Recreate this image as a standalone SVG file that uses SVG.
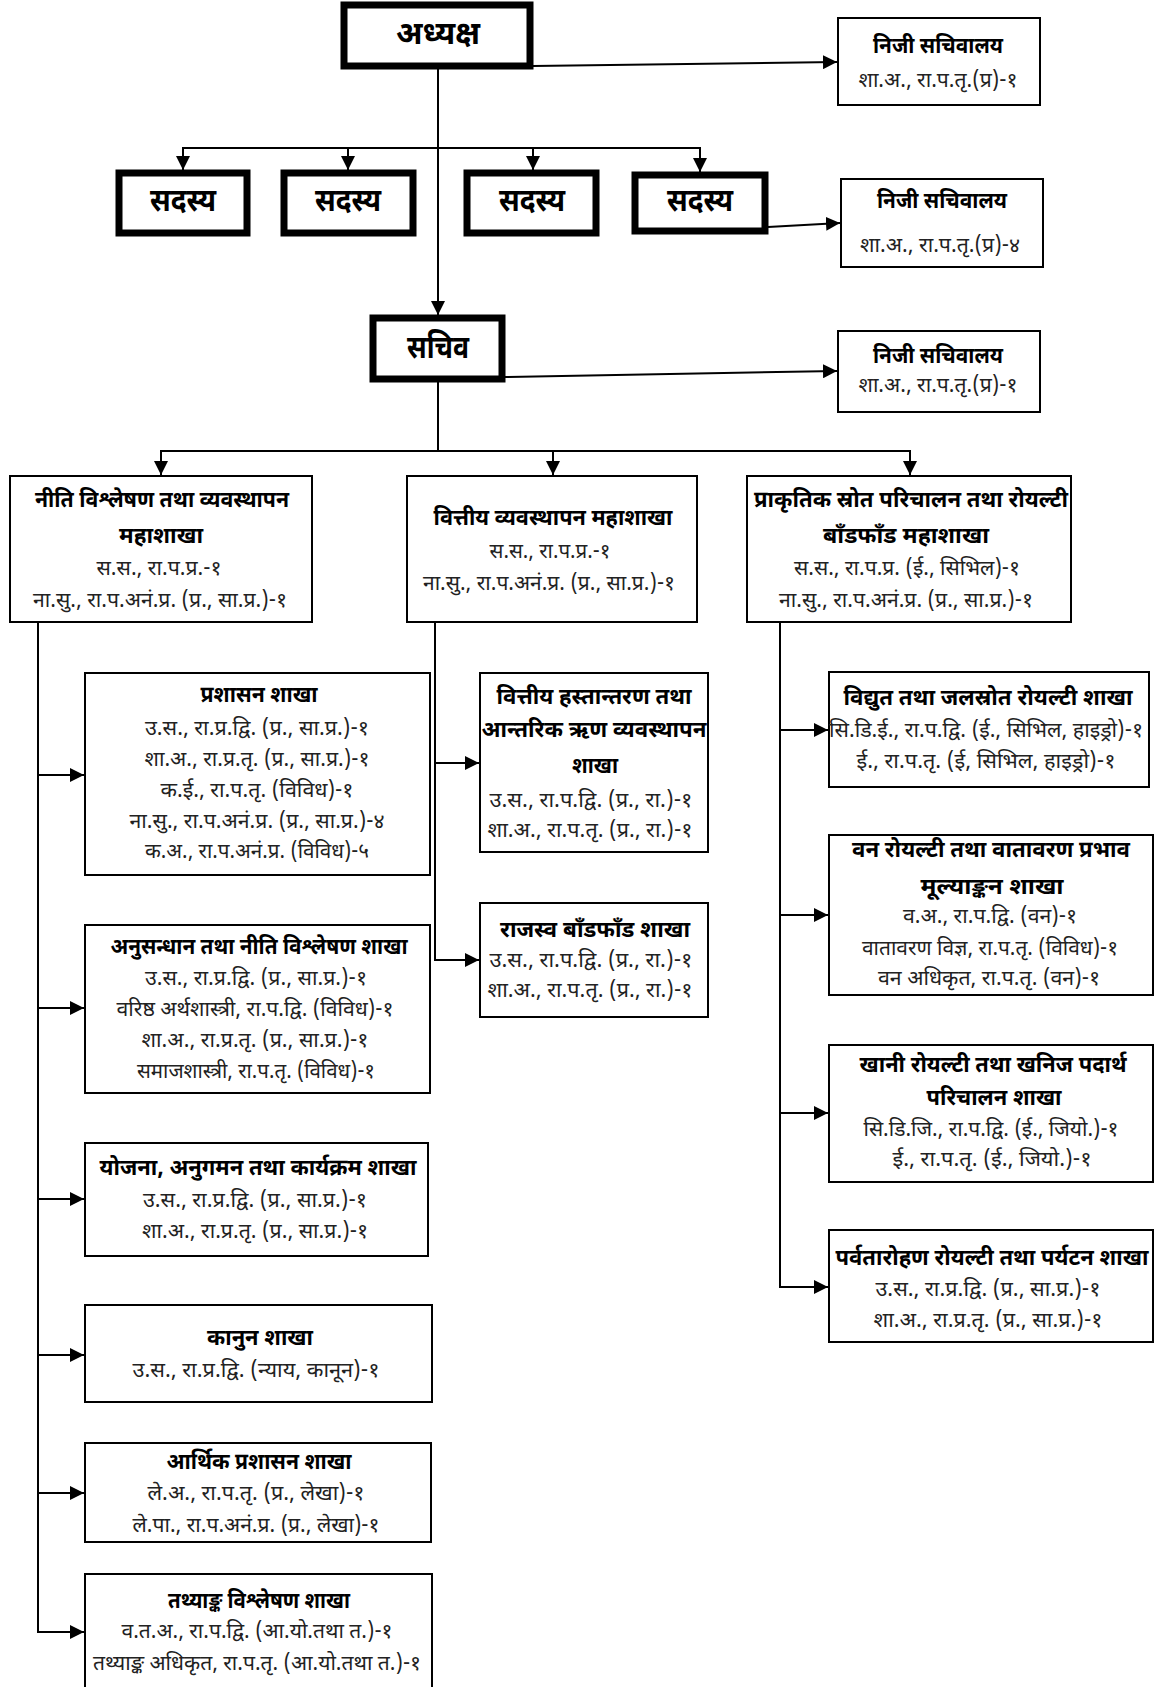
<svg xmlns="http://www.w3.org/2000/svg" width="1155" height="1687" viewBox="0 0 1155 1687">
<style>
.box{fill:#fff;stroke:#000;stroke-width:2}
.thick{fill:#fff;stroke:#000;stroke-width:7}
text{font-family:"Noto Sans Devanagari","Noto Sans","Lohit Devanagari",sans-serif;text-anchor:middle;dominant-baseline:central;fill:#000}
.h{font-size:32px;font-weight:bold}
.t{font-size:23px;font-weight:bold}
.b{font-size:21px;fill:#222}
.c{fill:none;stroke:#000;stroke-width:2}
</style>
<defs>
<marker id="ar" markerUnits="userSpaceOnUse" markerWidth="14" markerHeight="14" refX="14" refY="7" orient="auto">
<path d="M0,0 L14,7 L0,14 z" fill="#000"/>
</marker>
</defs>
<rect width="1155" height="1687" fill="#fff"/>

<g id="connectors">
<path class="c" d="M533,66 L837,62" marker-end="url(#ar)"/>
<path class="c" d="M438,69 V315" marker-end="url(#ar)"/>
<path class="c" d="M438,148 H183 V170" marker-end="url(#ar)"/>
<path class="c" d="M438,148 H700 V172" marker-end="url(#ar)"/>
<path class="c" d="M348,148 V170" marker-end="url(#ar)"/>
<path class="c" d="M533,148 V170" marker-end="url(#ar)"/>
<path class="c" d="M768,227 L840,223" marker-end="url(#ar)"/>
<path class="c" d="M505,377 L837,371" marker-end="url(#ar)"/>
<path class="c" d="M438,382 V451"/>
<path class="c" d="M438,451 H161 V475" marker-end="url(#ar)"/>
<path class="c" d="M438,451 H910 V475" marker-end="url(#ar)"/>
<path class="c" d="M553,451 V475" marker-end="url(#ar)"/>
<path class="c" d="M38,623 V1632 H84" marker-end="url(#ar)"/>
<path class="c" d="M38,775 H84" marker-end="url(#ar)"/>
<path class="c" d="M38,1008 H84" marker-end="url(#ar)"/>
<path class="c" d="M38,1199 H84" marker-end="url(#ar)"/>
<path class="c" d="M38,1355 H84" marker-end="url(#ar)"/>
<path class="c" d="M38,1493 H84" marker-end="url(#ar)"/>
<path class="c" d="M435,623 V960 H479" marker-end="url(#ar)"/>
<path class="c" d="M435,763 H479" marker-end="url(#ar)"/>
<path class="c" d="M780,623 V1287 H828" marker-end="url(#ar)"/>
<path class="c" d="M780,730 H828" marker-end="url(#ar)"/>
<path class="c" d="M780,915 H828" marker-end="url(#ar)"/>
<path class="c" d="M780,1113 H828" marker-end="url(#ar)"/>
</g>

<g id="adhyaksha">
<rect class="thick" x="344" y="5" width="186" height="61"/>
<text class="h" x="438" y="36" textLength="84" lengthAdjust="spacingAndGlyphs">अध्यक्ष</text>
</g>
<g id="niji1">
<rect class="box" x="838" y="18" width="202" height="87"/>
<text class="t" x="938" y="47" textLength="130" lengthAdjust="spacingAndGlyphs">निजी सचिवालय</text>
<text class="b" x="938" y="82" textLength="159" lengthAdjust="spacingAndGlyphs">शा.अ., रा.प.तृ.(प्र)-१</text>
</g>
<g id="sadasya1">
<rect class="thick" x="119" y="173" width="128" height="60"/>
<text class="h" x="183" y="203" textLength="66" lengthAdjust="spacingAndGlyphs">सदस्य</text>
</g>
<g id="sadasya2">
<rect class="thick" x="284" y="173" width="129" height="60"/>
<text class="h" x="348" y="203" textLength="66" lengthAdjust="spacingAndGlyphs">सदस्य</text>
</g>
<g id="sadasya3">
<rect class="thick" x="467" y="173" width="129" height="60"/>
<text class="h" x="532" y="203" textLength="66" lengthAdjust="spacingAndGlyphs">सदस्य</text>
</g>
<g id="sadasya4">
<rect class="thick" x="635" y="175" width="130" height="56"/>
<text class="h" x="700" y="203" textLength="66" lengthAdjust="spacingAndGlyphs">सदस्य</text>
</g>
<g id="niji2">
<rect class="box" x="841" y="179" width="202" height="88"/>
<text class="t" x="942" y="202" textLength="130" lengthAdjust="spacingAndGlyphs">निजी सचिवालय</text>
<text class="b" x="940" y="247" textLength="160" lengthAdjust="spacingAndGlyphs">शा.अ., रा.प.तृ.(प्र)-४</text>
</g>
<g id="sachiv">
<rect class="thick" x="373" y="318" width="129" height="61"/>
<text class="h" x="438" y="350" textLength="62" lengthAdjust="spacingAndGlyphs">सचिव</text>
</g>
<g id="niji3">
<rect class="box" x="838" y="331" width="202" height="81"/>
<text class="t" x="938" y="357" textLength="130" lengthAdjust="spacingAndGlyphs">निजी सचिवालय</text>
<text class="b" x="938" y="387" textLength="159" lengthAdjust="spacingAndGlyphs">शा.अ., रा.प.तृ.(प्र)-१</text>
</g>

<g id="mahashakha1">
<rect class="box" x="10" y="476" width="302" height="146"/>
<text class="t" x="162" y="501" textLength="254" lengthAdjust="spacingAndGlyphs">नीति विश्लेषण तथा व्यवस्थापन</text>
<text class="t" x="161" y="537" textLength="84" lengthAdjust="spacingAndGlyphs">महाशाखा</text>
<text class="b" x="159" y="570" textLength="125" lengthAdjust="spacingAndGlyphs">स.स., रा.प.प्र.-१</text>
<text class="b" x="160" y="602" textLength="254" lengthAdjust="spacingAndGlyphs">ना.सु., रा.प.अनं.प्र. (प्र., सा.प्र.)-१</text>
</g>
<g id="mahashakha2">
<rect class="box" x="407" y="476" width="290" height="146"/>
<text class="t" x="553" y="519" textLength="239" lengthAdjust="spacingAndGlyphs">वित्तीय व्यवस्थापन महाशाखा</text>
<text class="b" x="550" y="553" textLength="121" lengthAdjust="spacingAndGlyphs">स.स., रा.प.प्र.-१</text>
<text class="b" x="549" y="585" textLength="252" lengthAdjust="spacingAndGlyphs">ना.सु., रा.प.अनं.प्र. (प्र., सा.प्र.)-१</text>
</g>
<g id="mahashakha3">
<rect class="box" x="747" y="476" width="324" height="146"/>
<text class="t" x="911" y="501" textLength="314" lengthAdjust="spacingAndGlyphs">प्राकृतिक स्रोत परिचालन तथा रोयल्टी</text>
<text class="t" x="906" y="537" textLength="166" lengthAdjust="spacingAndGlyphs">बाँडफाँड महाशाखा</text>
<text class="b" x="907" y="570" textLength="226" lengthAdjust="spacingAndGlyphs">स.स., रा.प.प्र. (ई., सिभिल)-१</text>
<text class="b" x="906" y="602" textLength="254" lengthAdjust="spacingAndGlyphs">ना.सु., रा.प.अनं.प्र. (प्र., सा.प्र.)-१</text>
</g>

<g id="prashasan">
<rect class="box" x="85" y="673" width="345" height="202"/>
<text class="t" x="259" y="696" textLength="117" lengthAdjust="spacingAndGlyphs">प्रशासन शाखा</text>
<text class="b" x="257" y="730" textLength="224" lengthAdjust="spacingAndGlyphs">उ.स., रा.प्र.द्वि. (प्र., सा.प्र.)-१</text>
<text class="b" x="257" y="761" textLength="225" lengthAdjust="spacingAndGlyphs">शा.अ., रा.प्र.तृ. (प्र., सा.प्र.)-१</text>
<text class="b" x="257" y="792" textLength="193" lengthAdjust="spacingAndGlyphs">क.ई., रा.प.तृ. (विविध)-१</text>
<text class="b" x="257" y="823" textLength="255" lengthAdjust="spacingAndGlyphs">ना.सु., रा.प.अनं.प्र. (प्र., सा.प्र.)-४</text>
<text class="b" x="257" y="853" textLength="224" lengthAdjust="spacingAndGlyphs">क.अ., रा.प.अनं.प्र. (विविध)-५</text>
</g>
<g id="anusandhan">
<rect class="box" x="85" y="925" width="345" height="168"/>
<text class="t" x="259" y="948" textLength="297" lengthAdjust="spacingAndGlyphs">अनुसन्धान तथा नीति विश्लेषण शाखा</text>
<text class="b" x="256" y="980" textLength="222" lengthAdjust="spacingAndGlyphs">उ.स., रा.प्र.द्वि. (प्र., सा.प्र.)-१</text>
<text class="b" x="255" y="1011" textLength="277" lengthAdjust="spacingAndGlyphs">वरिष्ठ अर्थशास्त्री, रा.प.द्वि. (विविध)-१</text>
<text class="b" x="255" y="1042" textLength="227" lengthAdjust="spacingAndGlyphs">शा.अ., रा.प्र.तृ. (प्र., सा.प्र.)-१</text>
<text class="b" x="256" y="1073" textLength="238" lengthAdjust="spacingAndGlyphs">समाजशास्त्री, रा.प.तृ. (विविध)-१</text>
</g>
<g id="yojana">
<rect class="box" x="85" y="1143" width="343" height="113"/>
<text class="t" x="258" y="1169" textLength="317" lengthAdjust="spacingAndGlyphs">योजना, अनुगमन तथा कार्यक्रम शाखा</text>
<text class="b" x="255" y="1202" textLength="224" lengthAdjust="spacingAndGlyphs">उ.स., रा.प्र.द्वि. (प्र., सा.प्र.)-१</text>
<text class="b" x="255" y="1233" textLength="226" lengthAdjust="spacingAndGlyphs">शा.अ., रा.प्र.तृ. (प्र., सा.प्र.)-१</text>
</g>
<g id="kanun">
<rect class="box" x="85" y="1305" width="347" height="97"/>
<text class="t" x="260" y="1339" textLength="106" lengthAdjust="spacingAndGlyphs">कानुन शाखा</text>
<text class="b" x="256" y="1372" textLength="247" lengthAdjust="spacingAndGlyphs">उ.स., रा.प्र.द्वि. (न्याय, कानून)-१</text>
</g>
<g id="arthik">
<rect class="box" x="85" y="1443" width="346" height="99"/>
<text class="t" x="259" y="1463" textLength="185" lengthAdjust="spacingAndGlyphs">आर्थिक प्रशासन शाखा</text>
<text class="b" x="256" y="1495" textLength="217" lengthAdjust="spacingAndGlyphs">ले.अ., रा.प.तृ. (प्र., लेखा)-१</text>
<text class="b" x="256" y="1527" textLength="247" lengthAdjust="spacingAndGlyphs">ले.पा., रा.प.अनं.प्र. (प्र., लेखा)-१</text>
</g>
<g id="tathyanka">
<rect class="box" x="85" y="1574" width="347" height="130"/>
<text class="t" x="259" y="1602" textLength="182" lengthAdjust="spacingAndGlyphs">तथ्याङ्क विश्लेषण शाखा</text>
<text class="b" x="257" y="1633" textLength="271" lengthAdjust="spacingAndGlyphs">व.त.अ., रा.प.द्वि. (आ.यो.तथा त.)-१</text>
<text class="b" x="257" y="1665" textLength="328" lengthAdjust="spacingAndGlyphs">तथ्याङ्क अधिकृत, रा.प.तृ. (आ.यो.तथा त.)-१</text>
</g>

<g id="hastantaran">
<rect class="box" x="480" y="673" width="228" height="179"/>
<text class="t" x="594" y="698" textLength="195" lengthAdjust="spacingAndGlyphs">वित्तीय हस्तान्तरण तथा</text>
<text class="t" x="594" y="731" textLength="225" lengthAdjust="spacingAndGlyphs">आन्तरिक ऋण व्यवस्थापन</text>
<text class="t" x="595" y="767" textLength="46" lengthAdjust="spacingAndGlyphs">शाखा</text>
<text class="b" x="591" y="802" textLength="203" lengthAdjust="spacingAndGlyphs">उ.स., रा.प.द्वि. (प्र., रा.)-१</text>
<text class="b" x="590" y="832" textLength="205" lengthAdjust="spacingAndGlyphs">शा.अ., रा.प.तृ. (प्र., रा.)-१</text>
</g>
<g id="rajaswa">
<rect class="box" x="480" y="903" width="228" height="114"/>
<text class="t" x="595" y="931" textLength="190" lengthAdjust="spacingAndGlyphs">राजस्व बाँडफाँड शाखा</text>
<text class="b" x="591" y="962" textLength="203" lengthAdjust="spacingAndGlyphs">उ.स., रा.प.द्वि. (प्र., रा.)-१</text>
<text class="b" x="590" y="992" textLength="205" lengthAdjust="spacingAndGlyphs">शा.अ., रा.प.तृ. (प्र., रा.)-१</text>
</g>

<g id="bidyut">
<rect class="box" x="829" y="672" width="320" height="115"/>
<text class="t" x="988" y="699" textLength="289" lengthAdjust="spacingAndGlyphs">विद्युत तथा जलस्रोत रोयल्टी शाखा</text>
<text class="b" x="986" y="732" textLength="314" lengthAdjust="spacingAndGlyphs">सि.डि.ई., रा.प.द्वि. (ई., सिभिल, हाइड्रो)-१</text>
<text class="b" x="986" y="763" textLength="259" lengthAdjust="spacingAndGlyphs">ई., रा.प.तृ. (ई, सिभिल, हाइड्रो)-१</text>
</g>
<g id="ban">
<rect class="box" x="829" y="835" width="324" height="160"/>
<text class="t" x="991" y="851" textLength="278" lengthAdjust="spacingAndGlyphs">वन रोयल्टी तथा वातावरण प्रभाव</text>
<text class="t" x="992" y="888" textLength="143" lengthAdjust="spacingAndGlyphs">मूल्याङ्कन शाखा</text>
<text class="b" x="990" y="918" textLength="174" lengthAdjust="spacingAndGlyphs">व.अ., रा.प.द्वि. (वन)-१</text>
<text class="b" x="990" y="950" textLength="256" lengthAdjust="spacingAndGlyphs">वातावरण विज्ञ, रा.प.तृ. (विविध)-१</text>
<text class="b" x="989" y="980" textLength="222" lengthAdjust="spacingAndGlyphs">वन अधिकृत, रा.प.तृ. (वन)-१</text>
</g>
<g id="khani">
<rect class="box" x="829" y="1045" width="324" height="137"/>
<text class="t" x="993" y="1066" textLength="267" lengthAdjust="spacingAndGlyphs">खानी रोयल्टी तथा खनिज पदार्थ</text>
<text class="t" x="994" y="1099" textLength="135" lengthAdjust="spacingAndGlyphs">परिचालन शाखा</text>
<text class="b" x="991" y="1131" textLength="255" lengthAdjust="spacingAndGlyphs">सि.डि.जि., रा.प.द्वि. (ई., जियो.)-१</text>
<text class="b" x="992" y="1161" textLength="199" lengthAdjust="spacingAndGlyphs">ई., रा.प.तृ. (ई., जियो.)-१</text>
</g>
<g id="parbatarohan">
<rect class="box" x="829" y="1230" width="324" height="112"/>
<text class="t" x="992" y="1259" textLength="313" lengthAdjust="spacingAndGlyphs">पर्वतारोहण रोयल्टी तथा पर्यटन शाखा</text>
<text class="b" x="988" y="1291" textLength="225" lengthAdjust="spacingAndGlyphs">उ.स., रा.प्र.द्वि. (प्र., सा.प्र.)-१</text>
<text class="b" x="988" y="1322" textLength="229" lengthAdjust="spacingAndGlyphs">शा.अ., रा.प्र.तृ. (प्र., सा.प्र.)-१</text>
</g>
</svg>
